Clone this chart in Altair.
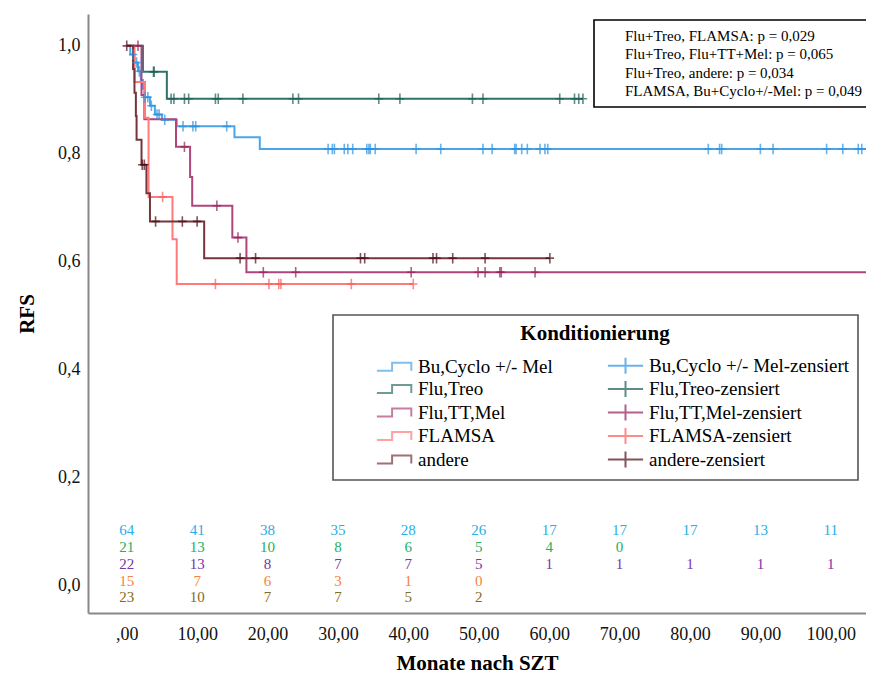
import altair as alt
import pandas as pd

# ---------------- data ----------------
groups = ["Bu,Cyclo +/- Mel", "Flu,Treo", "Flu,TT,Mel", "FLAMSA", "andere"]
line_colors = ["#4aa6e8", "#2f746c", "#b0457c", "#ff7b7b", "#74363b"]
cens_colors = ["#2a92e3", "#1d5c55", "#941f59", "#ff5a5a", "#4a0c16"]

# step levels (months, RFS)
bu_t = [0, 0.5, 1.1, 1.6, 2.0, 2.3, 2.5, 3.3, 4.0, 5.0, 7.1, 15.3, 18.9, 108]
bu_s = [1.0, 0.984, 0.969, 0.953, 0.937, 0.921, 0.905, 0.889, 0.873, 0.863, 0.851, 0.831, 0.809, 0.809]
bu_cens = [0.9, 1.4, 1.8, 2.6, 3.0, 3.5, 4.3, 4.6, 5.4, 8.0, 9.4, 9.8, 14.2, 28.6, 29.2, 29.5,
           30.9, 31.4, 32.1, 34.1, 34.4, 34.6, 35.3, 41.1, 44.6, 50.6, 51.9, 55.1, 55.3, 56.1,
           56.9, 58.7, 59.4, 59.8, 82.6, 84.2, 84.5, 90.0, 91.8, 99.4, 101.7, 103.9, 104.4]

treo_t = [0, 2.3, 5.7, 64.8]
treo_s = [1.0, 0.952, 0.902, 0.902]
treo_cens = [3.8, 3.9, 6.3, 6.7, 8.2, 8.8, 12.6, 13.0, 16.5, 23.6, 24.4, 35.8, 38.8, 49.1,
             50.6, 61.5, 63.6, 64.2, 64.8]

ttmel_t = [0, 2.1, 2.5, 7.0, 9.0, 9.3, 15.0, 17.0, 108]
ttmel_s = [1.0, 0.909, 0.864, 0.813, 0.757, 0.704, 0.645, 0.581, 0.581]
ttmel_cens = [1.6, 8.2, 12.8, 15.8, 19.4, 24.0, 40.4, 49.9, 50.9, 53.0, 53.2, 58.0]

flamsa_t = [0, 1.1, 2.6, 3.1, 6.5, 7.1, 40.7]
flamsa_s = [1.0, 0.933, 0.867, 0.72, 0.642, 0.559, 0.559]
flamsa_cens = [5.1, 12.6, 20.2, 21.6, 21.9, 31.9, 40.7]

andere_t = [0, 0.9, 1.1, 1.3, 1.4, 2.1, 2.8, 3.3, 11.0, 60.1]
andere_s = [1.0, 0.957, 0.913, 0.870, 0.826, 0.78, 0.727, 0.675, 0.607, 0.607]
andere_cens = [0.0, 2.2, 2.5, 4.1, 7.9, 10.0, 16.1, 18.3, 33.2, 33.8, 43.5, 44.0, 46.3, 50.9, 60.1]

# numbers at risk
risk_times = [0, 10, 20, 30, 40, 50, 60, 70, 80, 90, 100]
risk_bu = [64, 41, 38, 35, 28, 26, 17, 17, 17, 13, 11]
risk_treo = [21, 13, 10, 8, 6, 5, 4, 0]
risk_ttmel = [22, 13, 8, 7, 7, 5, 1, 1, 1, 1, 1]
risk_flamsa = [15, 7, 6, 3, 1, 0]
risk_andere = [23, 10, 7, 7, 5, 2]
risk_colors = ["#2aaee6", "#22b063", "#7a35a8", "#f5843f", "#856a22"]
risk_row_y = [0.104, 0.072, 0.041, 0.009, -0.020]

pvals = [
    "Flu+Treo, FLAMSA: p = 0,029",
    "Flu+Treo, Flu+TT+Mel: p = 0,065",
    "Flu+Treo, andere: p = 0,034",
    "FLAMSA, Bu+Cyclo+/-Mel: p = 0,049",
]

steps = [(bu_t, bu_s, bu_cens), (treo_t, treo_s, treo_cens), (ttmel_t, ttmel_s, ttmel_cens),
         (flamsa_t, flamsa_s, flamsa_cens), (andere_t, andere_s, andere_cens)]
risks = [risk_bu, risk_treo, risk_ttmel, risk_flamsa, risk_andere]


def level_at(ts, ss, t):
    v = ss[0]
    for ti, si in zip(ts, ss):
        if ti <= t:
            v = si
    return v


line_rows, cens_rows = [], []
for g, (ts, ss, cs) in zip(groups, steps):
    for i, (t, s) in enumerate(zip(ts, ss)):
        line_rows.append({"key": g, "t": t, "s": s, "o": i})
    for c in cs:
        cens_rows.append({"key": g + "-zensiert", "t": c, "s": level_at(ts, ss, c)})
lines_df = pd.DataFrame(line_rows)
cens_df = pd.DataFrame(cens_rows)

# legend fills column by column: step entries first, then censored entries
dom = groups + [g + "-zensiert" for g in groups]
rng = line_colors + cens_colors

FONT = "Liberation Serif, DejaVu Serif, serif"
xscale = alt.Scale(domain=[-5.5, 105.0], nice=False, zero=False)
yscale = alt.Scale(domain=[-0.05, 1.059], nice=False, zero=False)

step_shape = "M-2.2,0.5H-0.3V-0.5H2.1V0.5"
cross_shape = "M-2.2,0H2.2M0,-1V1"
shape_range = [step_shape] * 5 + [cross_shape] * 5

main_legend = alt.Legend(
    title="Konditionierung", orient="none", legendX=245, legendY=301, columns=2,
    titleFont=FONT, titleFontSize=21, titleFontWeight="bold", titleColor="black",
    titleAnchor="middle", titlePadding=12,
    labelFont=FONT, labelFontSize=19, labelColor="black", labelLimit=400,
    symbolSize=256, symbolStrokeWidth=2, symbolFillColor="transparent",
    labelOffset=14, symbolOffset=44,
    rowPadding=-1.5, columnPadding=19, padding=8,
    strokeColor="#555555", fillColor="white",
)

color_enc = alt.Color("key:N", scale=alt.Scale(domain=dom, range=rng), legend=main_legend)

x_axis = alt.Axis(
    values=risk_times, ticks=False, grid=False, domainColor="#888888", domainWidth=2,
    labelExpr="datum.value == 0 ? ',00' : replace(format(datum.value, '.2f'), '.', ',')",
    labelFont=FONT, labelFontSize=18, labelColor="#111111", labelPadding=12,
    title="Monate nach SZT", titleFont=FONT, titleFontSize=21, titleFontWeight="bold",
    titleColor="black", titlePadding=9,
)
y_axis = alt.Axis(
    values=[0, 0.2, 0.4, 0.6, 0.8, 1.0], ticks=False, grid=False, domainColor="#888888",
    domainWidth=2, labelExpr="replace(format(datum.value, '.1f'), '.', ',')",
    labelFont=FONT, labelFontSize=18, labelColor="#111111", labelPadding=8,
    title="RFS", titleFont=FONT, titleFontSize=21, titleFontWeight="bold",
    titleColor="black", titlePadding=20,
)

lines = alt.Chart(lines_df).mark_line(interpolate="step-after", strokeWidth=2, clip=True).encode(
    x=alt.X("t:Q", scale=xscale, axis=x_axis),
    y=alt.Y("s:Q", scale=yscale, axis=y_axis),
    color=color_enc,
    order="o:Q",
)

cens = alt.Chart(cens_df).mark_point(
    shape="M-0.8,0H0.8M0,-1V1", size=110, strokeWidth=1.6, filled=False, clip=True
).encode(
    x=alt.X("t:Q", scale=xscale),
    y=alt.Y("s:Q", scale=yscale),
    color=color_enc,
)

# carrier of the legend symbols (drawn outside the clipped plot area)
legend_df = pd.DataFrame({"key": dom})
legend_carrier = alt.Chart(legend_df).mark_point(filled=False, strokeWidth=2, clip=True).encode(
    x=alt.value(-2000), y=alt.value(-2000),
    color=color_enc,
    shape=alt.Shape("key:N", scale=alt.Scale(domain=dom, range=shape_range), legend=main_legend),
)

risk_layers = []
for vals, col, ry in zip(risks, risk_colors, risk_row_y):
    df = pd.DataFrame({"t": risk_times[:len(vals)], "n": vals, "y": [ry] * len(vals)})
    risk_layers.append(
        alt.Chart(df).mark_text(font=FONT, fontSize=15, color=col, align="center", baseline="middle").encode(
            x=alt.X("t:Q", scale=xscale), y=alt.Y("y:Q", scale=yscale), text="n:N"
        )
    )

pv_df = pd.DataFrame({"label": pvals})
pv = alt.Chart(pv_df).mark_point(size=0, clip=True).encode(
    x=alt.value(-2000), y=alt.value(-2000),
    strokeDash=alt.StrokeDash(
        "label:N", scale=alt.Scale(domain=pvals),
        legend=alt.Legend(
            title=None, orient="none", legendX=506, legendY=6,
            labelFont=FONT, labelFontSize=15, labelColor="black", labelLimit=500,
            symbolSize=0, symbolOpacity=0, symbolStrokeWidth=0, labelOffset=0, symbolOffset=8,
            rowPadding=2.5, padding=8, strokeColor="black", fillColor="white",
        ),
    ),
)

chart = alt.layer(lines, cens, legend_carrier, *risk_layers, pv).properties(
    width=778, height=599,
    autosize=alt.AutoSizeParams(type="none"),
    padding={"left": 80, "top": 6, "right": 0, "bottom": 63},
    background="white",
).configure_view(stroke=None).configure_legend(strokeWidth=1.6)

chart.save("out.html", embed_options={"renderer": "svg", "actions": False})
